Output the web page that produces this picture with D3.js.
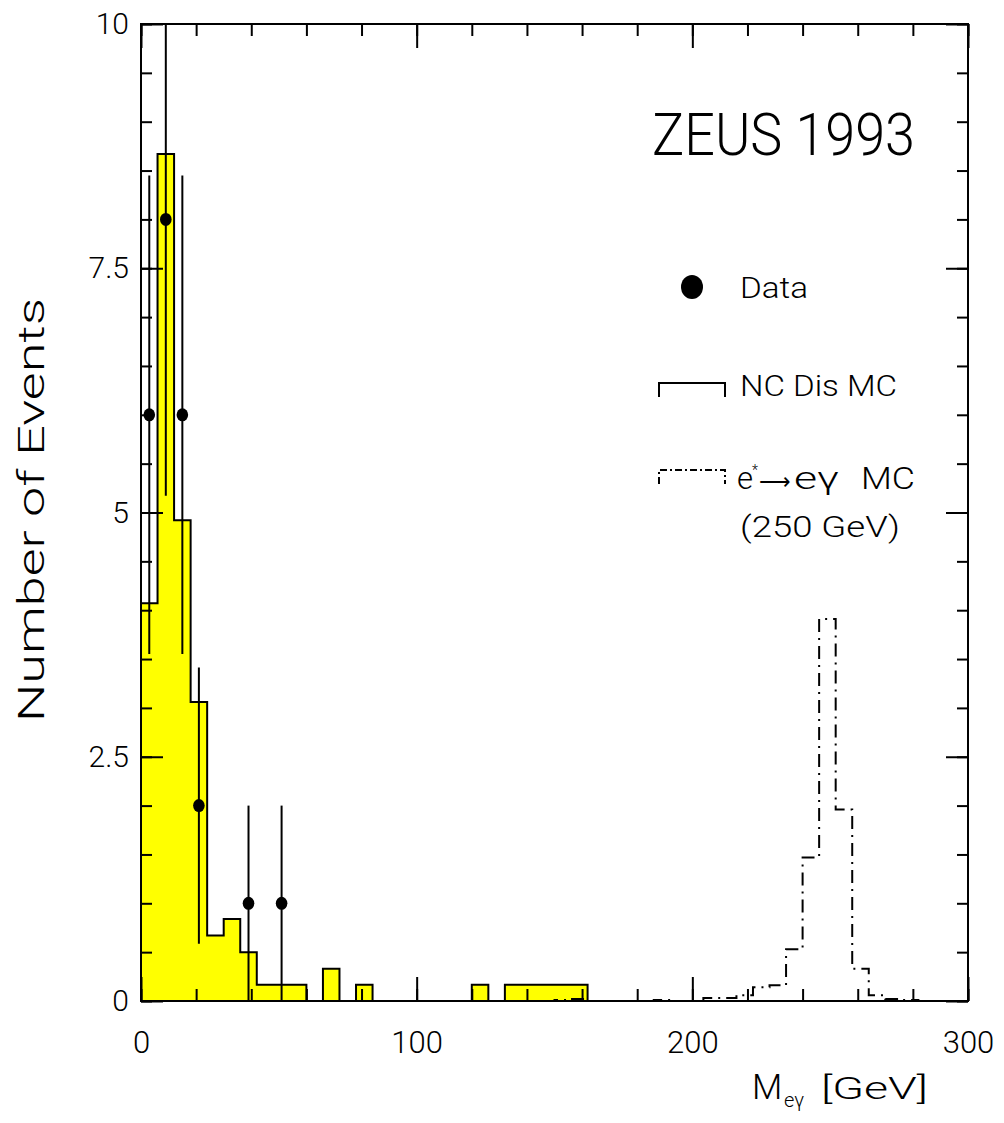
<!DOCTYPE html>
<html>
<head>
<meta charset="utf-8">
<script src="https://cdn.jsdelivr.net/npm/d3@7"></script>
<style>
  html, body { margin: 0; padding: 0; background: #fff; }
  svg text { font-family: Roboto, "Liberation Sans", "DejaVu Sans", sans-serif; font-weight: 300; fill: #000; }
</style>
</head>
<body>
<svg id="chart" width="1004" height="1123"></svg>
<script>
// Histogram binning: 6 GeV bins from 0 to 300 GeV
const binWidth = 6;
const nBins = 50;

// NC DIS Monte Carlo expectation (events per bin)
const ncMC = [
  4.07, 8.67, 4.92, 3.06, 0.67, 0.84, 0.50, 0.167, 0.167, 0.167,
  0, 0.33, 0, 0.167, 0, 0, 0, 0, 0, 0,
  0.167, 0, 0.167, 0.167, 0.167, 0.167, 0.167, 0, 0, 0,
  0, 0, 0, 0, 0, 0, 0, 0, 0, 0,
  0, 0, 0, 0, 0, 0, 0, 0, 0, 0
];

// Excited electron e* -> e gamma Monte Carlo, M = 250 GeV (events per bin)
const estarMC = [
  0, 0, 0, 0, 0, 0, 0, 0, 0, 0,
  0, 0, 0, 0, 0, 0, 0, 0, 0, 0,
  0, 0, 0, 0, 0, 0.01, 0.02, 0, 0, 0,
  0, 0.01, 0, 0, 0.03, 0.03, 0.06, 0.14, 0.16, 0.53,
  1.47, 3.91, 1.96, 0.33, 0.06, 0.02, 0.01, 0, 0, 0
];

// Observed events: bin centre (GeV) and count
const dataMass = [3, 9, 15, 21, 39, 51];
const dataCount = [6, 8, 6, 2, 1, 1];

// Axis ticks
const xMajorTicks = [0, 100, 200, 300];
const xMinorTicks = d3.range(0, 301, 20);
const yMajorTicks = [0, 2.5, 5, 7.5, 10];
const yMinorTicks = d3.range(0, 10.01, 0.5);
const yTickLabels = ["0", "2.5", "5", "7.5", "10"];

const svg = d3.select("#chart");
const L = 141, R = 968, T = 24, B = 1001;

const x = d3.scaleLinear().domain([0, 300]).range([L, R]);
const y = d3.scaleLinear().domain([0, 10]).range([B, T]);

svg.append("defs").append("clipPath").attr("id", "plotclip")
  .append("rect").attr("x", L).attr("y", T).attr("width", R - L).attr("height", B - T);

const plot = svg.append("g").attr("clip-path", "url(#plotclip)");

// Step-histogram vertices from per-bin values
function steps(vals) {
  const pts = [[0, 0]];
  vals.forEach((v, i) => { pts.push([i * binWidth, v]); });
  pts.push([nBins * binWidth, vals[vals.length - 1]]);
  pts.push([nBins * binWidth, 0]);
  return pts;
}

const ncPts = steps(ncMC);
plot.append("path")
  .attr("d", d3.area().x(d => x(d[0])).y0(y(0)).y1(d => y(d[1])).curve(d3.curveStepAfter)(ncPts))
  .attr("fill", "#ffff00").attr("stroke", "none");
plot.append("path")
  .attr("d", d3.line().x(d => x(d[0])).y(d => y(d[1])).curve(d3.curveStepAfter)(ncPts))
  .attr("fill", "none").attr("stroke", "#000").attr("stroke-width", 2);

const esPts = steps(estarMC);
plot.append("path")
  .attr("d", d3.line().x(d => x(d[0])).y(d => y(d[1])).curve(d3.curveStepAfter)(esPts))
  .attr("fill", "none").attr("stroke", "#000").attr("stroke-width", 2)
  .attr("stroke-dasharray", "13,6,2,6");

// Data points with sqrt(N) error bars
const pts = dataMass.map((m, i) => ({ m, n: dataCount[i], e: Math.sqrt(dataCount[i]) }));
plot.selectAll("line.err").data(pts).enter().append("line")
  .attr("class", "err")
  .attr("x1", d => x(d.m)).attr("x2", d => x(d.m))
  .attr("y1", d => y(d.n - d.e)).attr("y2", d => y(d.n + d.e))
  .attr("stroke", "#000").attr("stroke-width", 2);
plot.selectAll("ellipse.pt").data(pts).enter().append("ellipse")
  .attr("class", "pt")
  .attr("cx", d => x(d.m)).attr("cy", d => y(d.n))
  .attr("rx", 5.8).attr("ry", 6.5).attr("fill", "#000");

// Axes: inward ticks on all four sides
function styleAxis(g) {
  g.select(".domain").remove();
  g.selectAll(".tick line").attr("stroke", "#000").attr("stroke-width", 2);
}
const fmtY = v => yTickLabels[yMajorTicks.indexOf(v)];

svg.append("g").attr("transform", `translate(0,${B})`)
  .call(d3.axisBottom(x).tickValues(xMinorTicks).tickSize(-12).tickFormat(""))
  .call(styleAxis);
svg.append("g").attr("transform", `translate(0,${B})`)
  .call(d3.axisBottom(x).tickValues(xMajorTicks).tickSize(-24).tickPadding(30).tickFormat(d3.format("d")))
  .call(styleAxis)
  .call(g => g.selectAll("text").attr("font-size", 31).attr("font-family", null));
svg.append("g").attr("transform", `translate(0,${T})`)
  .call(d3.axisTop(x).tickValues(xMinorTicks).tickSize(-12).tickFormat(""))
  .call(styleAxis);
svg.append("g").attr("transform", `translate(0,${T})`)
  .call(d3.axisTop(x).tickValues(xMajorTicks).tickSize(-24).tickFormat(""))
  .call(styleAxis);

svg.append("g").attr("transform", `translate(${L},0)`)
  .call(d3.axisLeft(y).tickValues(yMinorTicks).tickSize(-11).tickFormat(""))
  .call(styleAxis);
svg.append("g").attr("transform", `translate(${L},0)`)
  .call(d3.axisLeft(y).tickValues(yMajorTicks).tickSize(-22).tickPadding(12).tickFormat(fmtY))
  .call(styleAxis)
  .call(g => g.selectAll("text").attr("font-size", 30).attr("font-family", null));
svg.append("g").attr("transform", `translate(${R},0)`)
  .call(d3.axisRight(y).tickValues(yMinorTicks).tickSize(-11).tickFormat(""))
  .call(styleAxis);
svg.append("g").attr("transform", `translate(${R},0)`)
  .call(d3.axisRight(y).tickValues(yMajorTicks).tickSize(-22).tickFormat(""))
  .call(styleAxis);

// Frame
svg.append("rect").attr("x", L).attr("y", T).attr("width", R - L).attr("height", B - T)
  .attr("fill", "none").attr("stroke", "#000").attr("stroke-width", 2);

// Axis titles
svg.append("text")
  .attr("transform", "translate(44,510) rotate(-90)")
  .attr("text-anchor", "middle").attr("font-size", 36)
  .attr("textLength", 424).attr("lengthAdjust", "spacingAndGlyphs")
  .text("Number of Events");

const xt = svg.append("text").attr("y", 1099).attr("font-size", 31);
xt.append("tspan").attr("x", 752).attr("font-size", 35).text("M");
xt.append("tspan").attr("x", 784).attr("font-size", 20).attr("dy", 8).text("eγ");
xt.append("tspan").attr("x", 821).attr("dy", -8)
  .attr("textLength", 107).attr("lengthAdjust", "spacingAndGlyphs").text("[GeV]");

// Experiment label
svg.append("text").attr("x", 652).attr("y", 155).attr("font-size", 59)
  .attr("textLength", 263).attr("lengthAdjust", "spacingAndGlyphs")
  .text("ZEUS 1993");

// Legend
svg.append("ellipse").attr("cx", 692).attr("cy", 287).attr("rx", 11).attr("ry", 12).attr("fill", "#000");
svg.append("text").attr("x", 740).attr("y", 298).attr("font-size", 29)
  .attr("textLength", 68).attr("lengthAdjust", "spacingAndGlyphs").text("Data");

svg.append("path").attr("d", "M659,397V383H725V397")
  .attr("fill", "none").attr("stroke", "#000").attr("stroke-width", 2);
svg.append("text").attr("x", 740).attr("y", 396).attr("font-size", 29)
  .attr("textLength", 157).attr("lengthAdjust", "spacingAndGlyphs").text("NC Dis MC");

svg.append("path").attr("d", "M659,484V470H725V484")
  .attr("fill", "none").attr("stroke", "#000").attr("stroke-width", 2)
  .attr("stroke-dasharray", "7,3,2,3");
const el = svg.append("text").attr("y", 489).attr("font-size", 31);
el.append("tspan").attr("x", 737).text("e");
el.append("tspan").attr("x", 752).attr("font-size", 14).attr("dy", -14).text("*");
el.append("tspan").attr("x", 759).attr("dy", 14).attr("font-family", "DejaVu Sans").attr("font-size", 22)
  .attr("textLength", 32).attr("lengthAdjust", "spacingAndGlyphs").text("\u27F6");
el.append("tspan").attr("x", 794).attr("textLength", 45).attr("lengthAdjust", "spacingAndGlyphs").text("eγ");
el.append("tspan").attr("x", 861).attr("textLength", 54).attr("lengthAdjust", "spacingAndGlyphs").text("MC");
svg.append("text").attr("x", 740).attr("y", 537).attr("font-size", 29)
  .attr("textLength", 160).attr("lengthAdjust", "spacingAndGlyphs").text("(250 GeV)");
</script>
</body>
</html>
